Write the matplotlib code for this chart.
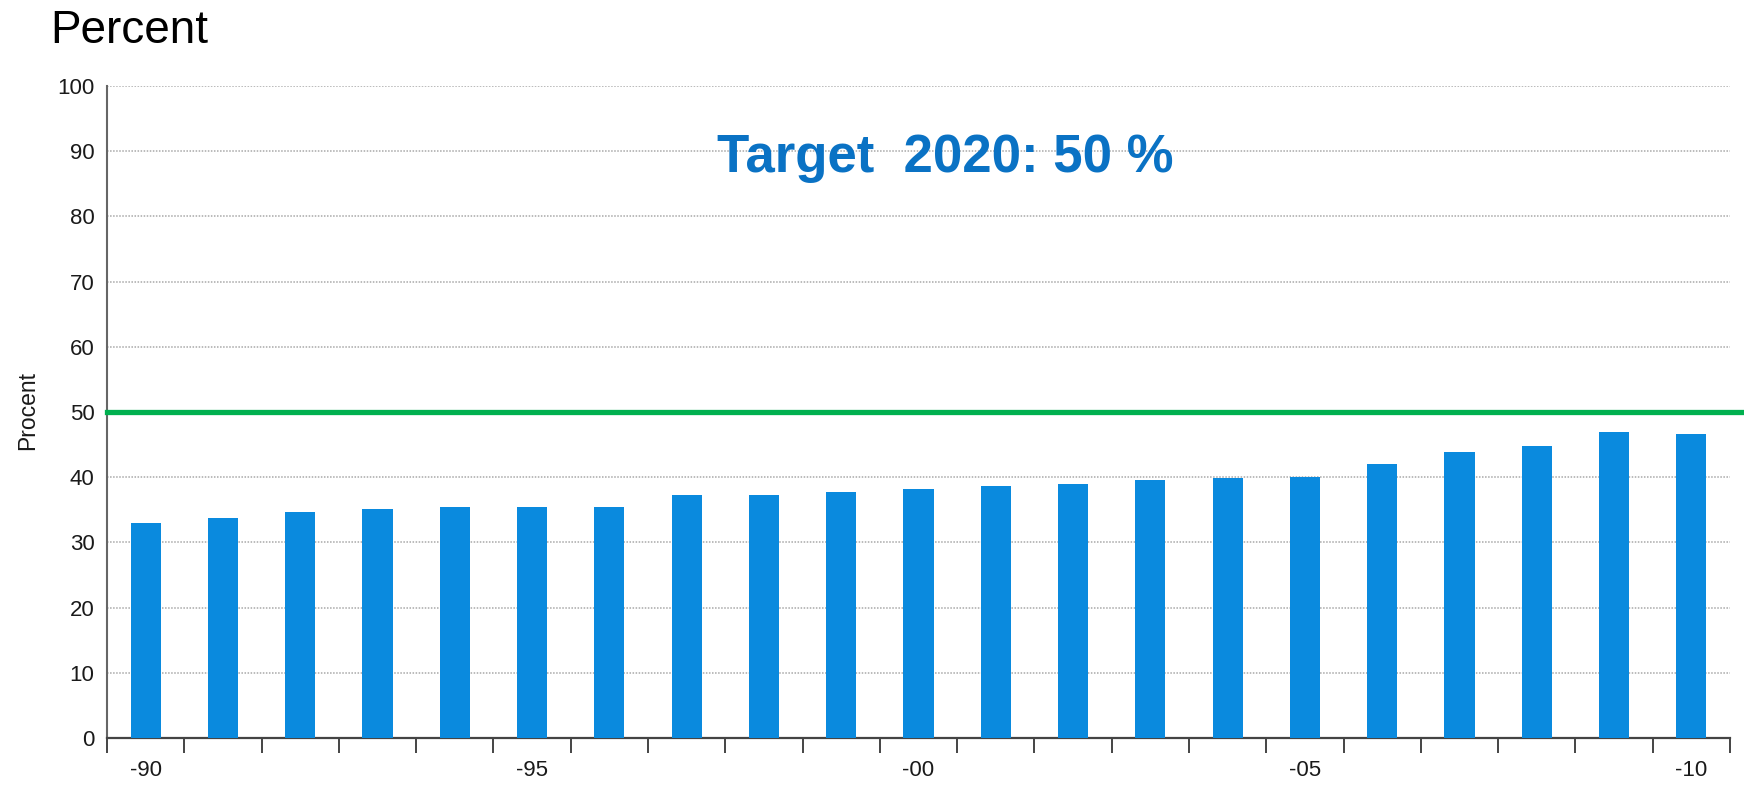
import numpy as np
import matplotlib
matplotlib.use('Agg')
import matplotlib.pyplot as plt

plt.rcParams['font.family'] = ['Liberation Sans', 'DejaVu Sans']

years = list(range(1990, 2011))
share = [32.9, 33.7, 34.6, 35.1, 35.5, 35.5, 35.5, 37.3, 37.3, 37.8, 38.2,
         38.6, 39.0, 39.5, 39.9, 40.0, 42.1, 43.9, 44.8, 47.0, 46.7]
tick_labels = {1990: '-90', 1995: '-95', 2000: '-00', 2005: '-05', 2010: '-10'}
target = 50

bar_color = '#0a8ade'
green = '#00b04f'

fig = plt.figure(figsize=(17.44, 7.87), dpi=100)
ax = fig.add_axes([107 / 1744, 49 / 787, 1623 / 1744, 652 / 787])

x = np.arange(len(years))
ax.bar(x, share, width=0.39, color=bar_color, zorder=3)

ax.set_xlim(-0.5, len(years) - 0.5)
ax.set_ylim(0, 100)

# dotted grid
for v in range(10, 101, 10):
    ax.axhline(v, color='#a8a8a8', lw=1.1, ls=(0, (1, 1)), zorder=1)

# target line, running out to the image edge
ax.axhline(target, xmin=0, xmax=1744 / 1730 + 0.01, color=green, lw=3.8,
           zorder=4, clip_on=False)

ax.set_yticks(range(0, 101, 10))
ax.tick_params(axis='y', length=0, pad=9, labelsize=16, labelcolor='#1a1a1a')

pos = [years.index(y) for y in tick_labels]
ax.set_xticks(pos)
ax.set_xticklabels(list(tick_labels.values()))
ax.set_xticks(np.arange(-0.5, len(years)), minor=True)
ax.tick_params(axis='x', which='major', length=0, pad=16, labelsize=16,
               labelcolor='#1a1a1a')
ax.tick_params(axis='x', which='minor', length=11, width=1.4, color='#444444')

for s in ['top', 'right']:
    ax.spines[s].set_visible(False)
ax.spines['left'].set_color('#666666')
ax.spines['left'].set_linewidth(1.5)
ax.spines['left'].set_bounds(0, 100)
ax.spines['bottom'].set_color('#444444')
ax.spines['bottom'].set_linewidth(1.6)

fig.text(28 / 1744, 1 - 411 / 787, 'Procent', rotation=90, ha='center',
         va='center', fontsize=16.5, color='#1a1a1a')
fig.text(50 / 1744, 1 - 43 / 787, 'Percent', fontsize=33, ha='left',
         va='baseline', color='black')
fig.text(945 / 1744, 1 - 172 / 787, 'Target  2020: 50 %', fontsize=38,
         fontweight='bold', color='#0a72c4', ha='center', va='baseline')

fig.savefig('out.png', dpi=100)
